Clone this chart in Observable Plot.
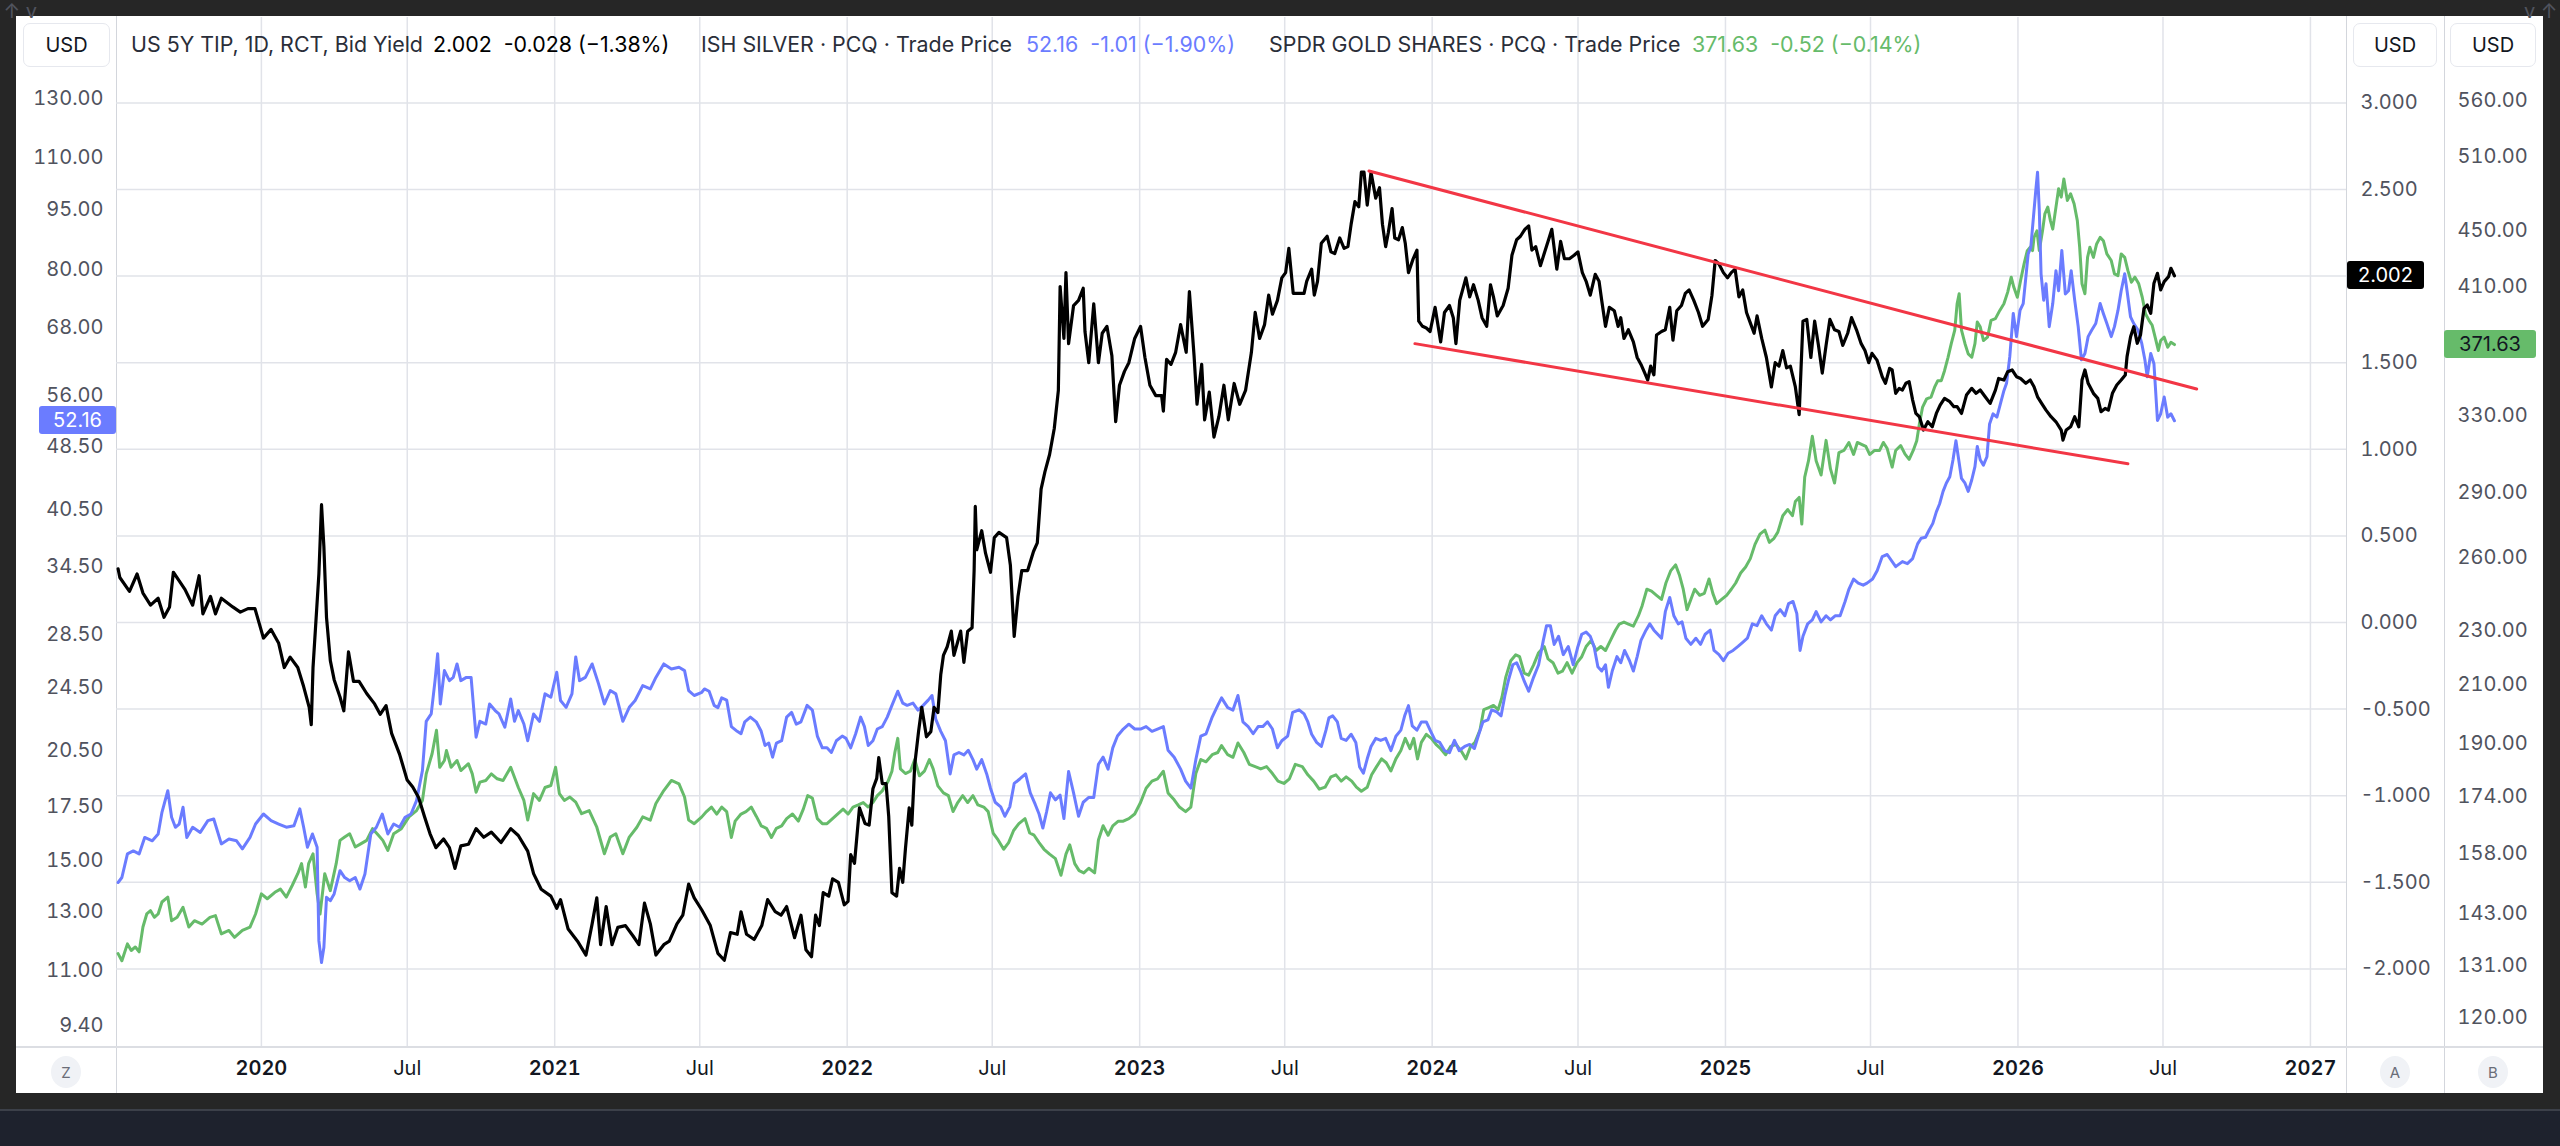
<!DOCTYPE html>
<html>
<head>
<meta charset="utf-8">
<script src="https://cdn.jsdelivr.net/npm/d3@7"></script>
<script src="https://cdn.jsdelivr.net/npm/@observablehq/plot@0.6"></script>
<style>
html,body{margin:0;padding:0;background:#262626;width:2560px;height:1146px;overflow:hidden;font-family:Inter,"Noto Sans",sans-serif;}
#stage{position:absolute;left:0;top:0;width:2560px;height:1146px;}
.panel{position:absolute;left:16px;top:16px;width:2527px;height:1077px;background:#fff;}
.footer{position:absolute;left:0;top:1109px;width:2560px;height:37px;background:#1e222d;border-top:2px solid #3c4049;}
.layer{position:absolute;left:0;top:0;}
.vsep{position:absolute;top:16px;height:1077px;width:1px;background:#d3d6dc;}
.hsep{position:absolute;left:16px;top:1046px;width:2527px;height:2px;background:#dcdee3;}
.usd{position:absolute;top:23px;height:44px;border:1px solid #e6e8ee;border-radius:7px;background:#fff;display:flex;align-items:center;justify-content:center;font-size:20px;color:#131722;box-sizing:border-box;}
.leg{position:absolute;top:30px;font-size:21.4px;line-height:28px;white-space:pre;color:#2a2e39;}
.badge{position:absolute;height:28px;border-radius:3px;font-size:20px;display:flex;align-items:center;justify-content:center;box-sizing:border-box;}
.circ{position:absolute;width:30px;height:32px;border-radius:50%;background:#f0f2f6;color:#6a6d78;font-size:15px;display:flex;align-items:center;justify-content:center;}
</style>
</head>
<body>
<div id="stage">
  <div class="panel"></div>
  <div class="footer"></div>
  <div class="vsep" style="left:116px"></div>
  <div class="vsep" style="left:2346px"></div>
  <div class="vsep" style="left:2444px"></div>
  <div class="hsep"></div>
</div>
<script>
// ---------- tick labels ----------
const yearTicks = [2020, 2021, 2022, 2023, 2024, 2025, 2026, 2027];
const julTicks = [2020, 2021, 2022, 2023, 2024, 2025, 2026];
const yieldTicks = [-2, -1.5, -1, -0.5, 0, 0.5, 1, 1.5, 2, 2.5, 3];
const silverTicks = [130, 110, 95, 80, 68, 56, 48.5, 40.5, 34.5, 28.5, 24.5, 20.5, 17.5, 15, 13, 11, 9.4];
const goldTicks = [560, 510, 450, 410, 370, 330, 290, 260, 230, 210, 190, 174, 158, 143, 131, 120];

// ---------- last values ----------
const lastYield = 2.002, lastSilver = 52.16, lastGold = 371.63;

// ---------- trend lines (decimal year, yield) ----------
const trendUpper = [[2023.784, 2.607], [2026.611, 1.348]];
const trendLower = [[2023.941, 1.610], [2026.376, 0.916]];

// ---------- US 5Y TIP yield (decimal year, %) ----------
const yieldSeries = [
[2019.510,0.31],[2019.516,0.26],[2019.549,0.18],[2019.575,0.28],[2019.595,0.17],[2019.621,0.10],[2019.647,0.14],[2019.667,0.03],[2019.686,0.09],[2019.699,0.29],[2019.719,0.24],[2019.739,0.19],[2019.765,0.10],[2019.787,0.27],[2019.800,0.05],[2019.826,0.15],[2019.843,0.05],[2019.863,0.14],[2019.902,0.09],[2019.928,0.06],[2019.954,0.08],[2019.978,0.08],
[2020.007,-0.09],[2020.033,-0.04],[2020.059,-0.12],[2020.078,-0.26],[2020.098,-0.20],[2020.124,-0.26],[2020.144,-0.37],[2020.163,-0.49],[2020.170,-0.59],[2020.176,-0.26],[2020.196,0.28],[2020.205,0.68],[2020.213,0.44],[2020.222,0.03],[2020.235,-0.22],[2020.248,-0.33],[2020.268,-0.43],[2020.281,-0.51],[2020.297,-0.17],[2020.314,-0.34],[2020.333,-0.34],[2020.359,-0.41],[2020.386,-0.47],[2020.405,-0.53],[2020.425,-0.48],[2020.444,-0.64],[2020.471,-0.76],[2020.497,-0.91],[2020.516,-0.95],[2020.536,-1.01],[2020.556,-1.12],[2020.575,-1.22],[2020.595,-1.30],[2020.621,-1.25],[2020.641,-1.30],[2020.660,-1.42],[2020.680,-1.29],[2020.706,-1.28],[2020.732,-1.19],[2020.758,-1.24],[2020.784,-1.21],[2020.817,-1.27],[2020.850,-1.19],[2020.876,-1.23],[2020.908,-1.32],[2020.928,-1.45],[2020.954,-1.54],[2020.987,-1.58],
[2021.007,-1.65],[2021.020,-1.60],[2021.046,-1.77],[2021.078,-1.84],[2021.107,-1.92],[2021.128,-1.74],[2021.144,-1.59],[2021.157,-1.86],[2021.176,-1.64],[2021.196,-1.86],[2021.216,-1.76],[2021.242,-1.75],[2021.268,-1.81],[2021.288,-1.86],[2021.307,-1.62],[2021.327,-1.74],[2021.346,-1.92],[2021.373,-1.86],[2021.392,-1.84],[2021.418,-1.74],[2021.438,-1.69],[2021.458,-1.51],[2021.477,-1.59],[2021.503,-1.66],[2021.532,-1.75],[2021.558,-1.91],[2021.580,-1.95],[2021.601,-1.79],[2021.624,-1.80],[2021.637,-1.67],[2021.656,-1.80],[2021.682,-1.83],[2021.708,-1.75],[2021.728,-1.60],[2021.754,-1.67],[2021.774,-1.69],[2021.793,-1.64],[2021.820,-1.82],[2021.842,-1.69],[2021.859,-1.89],[2021.878,-1.93],[2021.892,-1.69],[2021.905,-1.75],[2021.918,-1.56],[2021.937,-1.58],[2021.950,-1.48],[2021.970,-1.50],[2021.990,-1.63],
[2022.003,-1.61],[2022.012,-1.34],[2022.025,-1.39],[2022.042,-1.07],[2022.061,-1.16],[2022.075,-1.17],[2022.088,-0.96],[2022.101,-0.90],[2022.108,-0.78],[2022.120,-0.93],[2022.133,-0.93],[2022.142,-1.12],[2022.153,-1.56],[2022.169,-1.58],[2022.179,-1.42],[2022.190,-1.50],[2022.199,-1.31],[2022.212,-1.07],[2022.221,-1.17],[2022.231,-0.82],[2022.244,-0.63],[2022.255,-0.49],[2022.271,-0.66],[2022.286,-0.63],[2022.297,-0.49],[2022.310,-0.52],[2022.320,-0.30],[2022.329,-0.19],[2022.342,-0.14],[2022.356,-0.05],[2022.365,-0.19],[2022.378,-0.11],[2022.388,-0.05],[2022.399,-0.23],[2022.412,-0.05],[2022.427,-0.03],[2022.434,0.30],[2022.438,0.67],[2022.443,0.42],[2022.460,0.53],[2022.473,0.40],[2022.490,0.29],[2022.503,0.49],[2022.519,0.52],[2022.545,0.49],[2022.558,0.33],[2022.571,-0.08],[2022.584,0.15],[2022.597,0.30],[2022.617,0.30],[2022.637,0.41],[2022.650,0.46],[2022.663,0.77],[2022.676,0.87],[2022.692,0.97],[2022.708,1.12],[2022.722,1.34],[2022.728,1.94],[2022.741,1.64],[2022.748,2.02],[2022.757,1.61],[2022.774,1.83],[2022.791,1.86],[2022.807,1.93],[2022.813,1.68],[2022.826,1.50],[2022.843,1.84],[2022.859,1.50],[2022.872,1.67],[2022.888,1.71],[2022.905,1.54],[2022.918,1.16],[2022.931,1.37],[2022.948,1.45],[2022.963,1.50],[2022.983,1.64],
[2023.003,1.71],[2023.018,1.53],[2023.035,1.37],[2023.055,1.31],[2023.075,1.31],[2023.081,1.22],[2023.092,1.52],[2023.107,1.49],[2023.123,1.56],[2023.140,1.72],[2023.159,1.56],[2023.170,1.91],[2023.186,1.54],[2023.196,1.26],[2023.212,1.49],[2023.222,1.17],[2023.238,1.33],[2023.254,1.07],[2023.271,1.19],[2023.288,1.37],[2023.303,1.17],[2023.323,1.38],[2023.342,1.26],[2023.362,1.34],[2023.382,1.56],[2023.395,1.79],[2023.410,1.64],[2023.427,1.72],[2023.441,1.89],[2023.454,1.78],[2023.471,1.86],[2023.486,1.99],[2023.499,2.02],[2023.510,2.16],[2023.525,1.90],[2023.542,1.90],[2023.562,1.90],[2023.571,1.97],[2023.588,2.04],[2023.597,1.89],[2023.608,1.97],[2023.621,2.19],[2023.641,2.23],[2023.654,2.14],[2023.667,2.13],[2023.684,2.22],[2023.699,2.16],[2023.712,2.17],[2023.723,2.30],[2023.736,2.43],[2023.749,2.40],[2023.758,2.60],[2023.767,2.60],[2023.778,2.41],[2023.791,2.60],[2023.807,2.45],[2023.820,2.51],[2023.830,2.30],[2023.841,2.17],[2023.850,2.25],[2023.863,2.39],[2023.872,2.22],[2023.885,2.21],[2023.898,2.28],[2023.908,2.19],[2023.919,2.02],[2023.935,2.10],[2023.948,2.15],[2023.954,1.74],[2023.967,1.71],[2023.980,1.70],[2023.993,1.68],
[2024.010,1.82],[2024.029,1.62],[2024.042,1.79],[2024.059,1.83],[2024.072,1.76],[2024.081,1.61],[2024.094,1.86],[2024.115,1.99],[2024.128,1.88],[2024.141,1.95],[2024.157,1.86],[2024.170,1.76],[2024.186,1.71],[2024.199,1.95],[2024.209,1.88],[2024.222,1.77],[2024.242,1.83],[2024.259,1.93],[2024.272,2.12],[2024.288,2.21],[2024.301,2.23],[2024.316,2.27],[2024.329,2.29],[2024.340,2.15],[2024.353,2.17],[2024.369,2.06],[2024.382,2.13],[2024.395,2.20],[2024.408,2.27],[2024.425,2.04],[2024.438,2.20],[2024.451,2.10],[2024.468,2.10],[2024.484,2.12],[2024.497,2.14],[2024.512,2.02],[2024.525,1.97],[2024.539,1.89],[2024.556,2.01],[2024.569,1.97],[2024.578,1.86],[2024.591,1.71],[2024.604,1.82],[2024.621,1.80],[2024.634,1.71],[2024.643,1.76],[2024.654,1.64],[2024.669,1.69],[2024.686,1.62],[2024.699,1.53],[2024.712,1.49],[2024.725,1.44],[2024.735,1.40],[2024.745,1.48],[2024.756,1.43],[2024.765,1.66],[2024.782,1.68],[2024.795,1.69],[2024.810,1.82],[2024.821,1.63],[2024.834,1.80],[2024.850,1.83],[2024.863,1.90],[2024.876,1.92],[2024.892,1.86],[2024.908,1.79],[2024.922,1.71],[2024.941,1.75],[2024.954,1.89],[2024.965,2.09],[2024.978,2.07],[2024.993,2.02],
[2025.007,1.99],[2025.020,2.02],[2025.033,2.04],[2025.046,1.88],[2025.059,1.92],[2025.072,1.79],[2025.085,1.73],[2025.098,1.67],[2025.108,1.77],[2025.124,1.64],[2025.140,1.53],[2025.157,1.36],[2025.170,1.50],[2025.183,1.48],[2025.196,1.57],[2025.209,1.47],[2025.222,1.48],[2025.239,1.36],[2025.252,1.20],[2025.265,1.74],[2025.278,1.75],[2025.292,1.53],[2025.305,1.74],[2025.318,1.60],[2025.331,1.44],[2025.344,1.60],[2025.357,1.75],[2025.373,1.69],[2025.388,1.68],[2025.401,1.60],[2025.418,1.67],[2025.431,1.76],[2025.448,1.69],[2025.464,1.61],[2025.477,1.57],[2025.490,1.50],[2025.501,1.554],[2025.518,1.515],[2025.536,1.419],[2025.547,1.381],[2025.561,1.467],[2025.570,1.458],[2025.582,1.323],[2025.594,1.352],[2025.605,1.342],[2025.617,1.381],[2025.628,1.390],[2025.640,1.284],[2025.651,1.207],[2025.663,1.188],[2025.677,1.111],[2025.692,1.159],[2025.707,1.130],[2025.721,1.207],[2025.734,1.255],[2025.749,1.294],[2025.767,1.275],[2025.781,1.246],[2025.792,1.246],[2025.807,1.207],[2025.824,1.313],[2025.842,1.352],[2025.857,1.323],[2025.871,1.342],[2025.888,1.303],[2025.905,1.265],[2025.923,1.342],[2025.934,1.409],[2025.952,1.400],[2025.965,1.448],[2025.980,1.458],[2025.995,1.419],
[2026.009,1.409],[2026.027,1.381],[2026.042,1.400],[2026.055,1.361],[2026.067,1.303],[2026.081,1.265],[2026.096,1.226],[2026.113,1.188],[2026.130,1.159],[2026.148,1.111],[2026.154,1.053],[2026.165,1.111],[2026.180,1.130],[2026.194,1.188],[2026.208,1.130],[2026.219,1.400],[2026.229,1.458],[2026.240,1.381],[2026.258,1.323],[2026.273,1.294],[2026.284,1.217],[2026.298,1.236],[2026.309,1.226],[2026.323,1.323],[2026.338,1.371],[2026.353,1.400],[2026.367,1.429],[2026.373,1.535],[2026.385,1.650],[2026.396,1.708],[2026.408,1.612],[2026.419,1.660],[2026.431,1.814],[2026.442,1.833],[2026.454,1.785],[2026.465,1.959],[2026.477,2.016],[2026.488,1.920],[2026.500,1.968],[2026.515,1.997],[2026.523,2.045],[2026.535,2.002]
];

// ---------- iShares Silver (decimal year, USD) ----------
const silverSeries = [
[2019.510,14.10],[2019.523,14.30],[2019.542,15.29],[2019.562,15.42],[2019.582,15.29],[2019.601,16.02],[2019.627,15.87],[2019.647,16.18],[2019.660,17.20],[2019.680,18.29],[2019.693,16.96],[2019.706,16.49],[2019.719,16.64],[2019.732,17.45],[2019.745,16.02],[2019.765,16.49],[2019.791,16.25],[2019.817,16.80],[2019.837,16.88],[2019.863,15.73],[2019.889,15.95],[2019.915,15.87],[2019.935,15.51],[2019.961,16.02],[2019.980,16.64],
[2020.007,17.12],[2020.033,16.80],[2020.059,16.64],[2020.085,16.49],[2020.111,16.56],[2020.131,17.37],[2020.144,16.49],[2020.157,15.58],[2020.174,16.18],[2020.190,15.58],[2020.196,11.95],[2020.205,11.24],[2020.213,11.73],[2020.222,13.52],[2020.235,13.39],[2020.248,13.65],[2020.268,14.58],[2020.284,14.30],[2020.301,14.17],[2020.320,14.30],[2020.336,13.84],[2020.353,14.44],[2020.373,16.18],[2020.392,16.49],[2020.412,17.12],[2020.431,16.18],[2020.451,16.64],[2020.471,16.49],[2020.490,16.96],[2020.510,17.12],[2020.529,17.78],[2020.549,19.36],[2020.562,22.26],[2020.579,22.73],[2020.592,24.98],[2020.601,26.96],[2020.610,23.38],[2020.624,25.70],[2020.641,24.98],[2020.654,25.21],[2020.667,26.19],[2020.680,24.98],[2020.699,25.21],[2020.715,25.21],[2020.732,21.28],[2020.745,22.26],[2020.765,22.09],[2020.778,23.38],[2020.797,22.95],[2020.810,22.73],[2020.830,21.89],[2020.850,23.72],[2020.863,22.26],[2020.876,22.95],[2020.895,22.09],[2020.908,21.07],[2020.928,22.73],[2020.948,22.26],[2020.967,24.06],[2020.987,23.83],
[2021.007,25.58],[2021.020,23.61],[2021.039,23.16],[2021.059,24.06],[2021.072,26.71],[2021.085,24.98],[2021.105,25.21],[2021.128,26.19],[2021.150,24.75],[2021.170,23.38],[2021.190,24.29],[2021.209,24.06],[2021.233,22.26],[2021.255,23.16],[2021.275,23.61],[2021.301,24.63],[2021.327,24.40],[2021.346,25.21],[2021.373,26.19],[2021.399,25.82],[2021.425,25.94],[2021.444,25.70],[2021.458,24.29],[2021.477,23.95],[2021.503,24.17],[2021.512,24.40],[2021.528,24.24],[2021.545,23.29],[2021.558,23.14],[2021.571,23.79],[2021.588,23.64],[2021.604,21.93],[2021.624,21.64],[2021.637,21.49],[2021.650,22.23],[2021.669,22.53],[2021.689,22.23],[2021.706,21.64],[2021.719,20.79],[2021.732,20.93],[2021.745,20.11],[2021.758,20.93],[2021.776,21.07],[2021.793,22.53],[2021.810,22.83],[2021.826,22.08],[2021.842,22.23],[2021.863,23.29],[2021.881,22.98],[2021.898,21.35],[2021.915,20.65],[2021.931,20.65],[2021.946,20.38],[2021.963,21.07],[2021.983,21.35],[2021.996,21.21],
[2022.012,20.65],[2022.029,21.49],[2022.046,22.53],[2022.059,21.93],[2022.072,20.79],[2022.088,21.07],[2022.103,21.78],[2022.120,21.93],[2022.137,22.53],[2022.153,23.29],[2022.173,24.24],[2022.190,23.44],[2022.205,23.29],[2022.225,23.44],[2022.242,22.98],[2022.260,23.29],[2022.277,23.64],[2022.290,23.95],[2022.303,22.38],[2022.320,21.64],[2022.336,21.07],[2022.352,19.18],[2022.365,20.24],[2022.382,20.38],[2022.399,20.24],[2022.414,20.51],[2022.430,19.97],[2022.443,19.44],[2022.460,19.97],[2022.477,19.18],[2022.490,18.42],[2022.506,17.70],[2022.525,17.47],[2022.539,17.01],[2022.556,17.47],[2022.571,18.67],[2022.591,18.92],[2022.610,19.18],[2022.626,18.18],[2022.643,17.59],[2022.656,17.12],[2022.669,16.45],[2022.682,17.24],[2022.695,18.18],[2022.712,17.82],[2022.728,18.06],[2022.741,16.90],[2022.757,19.31],[2022.774,18.18],[2022.791,17.01],[2022.807,17.70],[2022.826,17.94],[2022.843,17.94],[2022.859,19.71],[2022.875,20.11],[2022.892,19.44],[2022.908,20.65],[2022.924,21.35],[2022.944,21.78],[2022.963,22.08],[2022.983,21.78],
[2023.003,21.78],[2023.022,21.93],[2023.042,21.64],[2023.061,21.78],[2023.081,21.93],[2023.097,20.51],[2023.118,20.11],[2023.140,19.44],[2023.157,18.79],[2023.175,18.42],[2023.192,19.97],[2023.209,21.35],[2023.227,21.49],[2023.248,22.53],[2023.267,23.29],[2023.280,23.79],[2023.301,23.14],[2023.319,22.98],[2023.336,23.95],[2023.353,22.23],[2023.371,21.93],[2023.388,21.49],[2023.405,21.93],[2023.421,21.93],[2023.437,22.23],[2023.454,21.78],[2023.471,20.65],[2023.486,21.07],[2023.506,21.35],[2023.523,22.83],[2023.545,23.00],[2023.562,22.73],[2023.575,22.22],[2023.588,21.46],[2023.605,20.97],[2023.621,20.73],[2023.637,21.71],[2023.647,22.48],[2023.660,22.61],[2023.676,22.22],[2023.689,21.21],[2023.706,21.09],[2023.723,21.46],[2023.739,20.97],[2023.752,19.56],[2023.765,19.22],[2023.778,20.02],[2023.791,20.73],[2023.807,21.21],[2023.824,21.09],[2023.841,21.21],[2023.859,20.49],[2023.876,21.34],[2023.893,21.71],[2023.906,22.61],[2023.919,23.27],[2023.932,21.97],[2023.948,21.71],[2023.963,22.22],[2023.980,22.22],[2023.993,21.71],
[2024.010,21.09],[2024.026,20.97],[2024.042,20.49],[2024.059,20.37],[2024.076,21.09],[2024.092,20.49],[2024.111,20.73],[2024.128,20.85],[2024.144,20.61],[2024.159,21.46],[2024.173,22.22],[2024.190,22.35],[2024.203,23.00],[2024.220,22.86],[2024.235,22.61],[2024.248,23.95],[2024.261,25.08],[2024.275,26.13],[2024.288,26.28],[2024.301,25.67],[2024.314,24.94],[2024.329,24.24],[2024.346,25.23],[2024.363,26.13],[2024.379,28.00],[2024.390,29.19],[2024.403,29.19],[2024.416,27.68],[2024.431,28.33],[2024.447,26.89],[2024.464,27.52],[2024.481,26.13],[2024.497,27.52],[2024.510,28.49],[2024.525,28.66],[2024.539,28.33],[2024.552,27.52],[2024.565,25.98],[2024.578,25.67],[2024.591,26.13],[2024.601,24.51],[2024.614,25.67],[2024.630,26.74],[2024.643,26.28],[2024.656,27.21],[2024.673,26.43],[2024.686,25.67],[2024.699,26.74],[2024.712,28.00],[2024.729,28.82],[2024.742,29.34],[2024.756,28.82],[2024.769,28.49],[2024.782,28.17],[2024.795,30.37],[2024.810,31.62],[2024.824,30.02],[2024.839,29.34],[2024.852,29.50],[2024.865,28.17],[2024.882,27.68],[2024.899,28.17],[2024.915,27.68],[2024.931,28.49],[2024.948,28.82],[2024.961,27.21],[2024.978,26.89],[2024.993,26.43],
[2025.009,27.00],[2025.026,27.21],[2025.043,27.52],[2025.059,27.84],[2025.075,28.17],[2025.092,29.34],[2025.108,29.19],[2025.124,30.02],[2025.140,29.34],[2025.157,28.82],[2025.170,30.02],[2025.187,30.55],[2025.203,30.02],[2025.216,31.08],[2025.231,31.26],[2025.244,30.20],[2025.255,27.21],[2025.265,28.33],[2025.281,29.34],[2025.297,29.67],[2025.310,30.37],[2025.327,29.50],[2025.344,30.02],[2025.359,29.67],[2025.375,30.02],[2025.392,30.02],[2025.409,31.26],[2025.422,32.36],[2025.438,33.31],[2025.454,32.93],[2025.471,32.74],[2025.484,32.93],[2025.503,33.31],[2025.519,34.13],[2025.536,35.50],[2025.553,35.71],[2025.582,34.5],[2025.605,35.0],[2025.622,34.8],[2025.640,35.3],[2025.657,36.8],[2025.669,37.4],[2025.684,37.5],[2025.697,38.3],[2025.709,39.0],[2025.721,40.3],[2025.732,41.2],[2025.744,42.7],[2025.755,43.7],[2025.767,44.5],[2025.778,46.7],[2025.788,49.3],[2025.796,47.1],[2025.807,44.3],[2025.819,43.7],[2025.830,42.7],[2025.842,44.1],[2025.853,45.8],[2025.861,48.5],[2025.871,46.7],[2025.882,46.0],[2025.894,47.1],[2025.903,51.7],[2025.915,53.2],[2025.928,52.7],[2025.940,54.7],[2025.952,56.8],[2025.961,58.0],[2025.972,62.5],[2025.984,70.7],[2025.995,66.2],
[2026.007,71.3],[2026.018,72.7],[2026.027,78.3],[2026.035,83.7],[2026.044,85.3],[2026.053,92.9],[2026.061,100.2],[2026.067,105.5],[2026.073,94.7],[2026.079,79.1],[2026.088,73.4],[2026.096,76.9],[2026.107,68.1],[2026.119,72.7],[2026.130,79.8],[2026.139,75.4],[2026.150,84.5],[2026.162,74.7],[2026.173,75.4],[2026.182,79.8],[2026.194,73.4],[2026.206,68.1],[2026.217,62.0],[2026.229,63.1],[2026.240,66.2],[2026.252,67.4],[2026.266,68.7],[2026.281,72.7],[2026.292,70.7],[2026.304,68.7],[2026.319,66.2],[2026.330,68.1],[2026.342,71.3],[2026.353,75.4],[2026.365,79.1],[2026.373,75.4],[2026.385,70.0],[2026.396,68.7],[2026.411,67.4],[2026.423,65.0],[2026.434,62.0],[2026.442,59.1],[2026.454,63.1],[2026.465,61.3],[2026.477,52.2],[2026.488,53.2],[2026.500,55.8],[2026.512,52.7],[2026.523,53.2],[2026.535,52.16]
];

// ---------- SPDR Gold Shares (decimal year, USD) ----------
const goldSeries = [
[2019.510,133.6],[2019.523,132.0],[2019.542,135.8],[2019.555,134.3],[2019.569,135.1],[2019.582,134.0],[2019.595,139.7],[2019.608,142.8],[2019.621,143.6],[2019.634,142.0],[2019.647,142.8],[2019.660,145.7],[2019.680,146.9],[2019.693,141.2],[2019.712,142.0],[2019.732,144.4],[2019.752,139.7],[2019.771,141.2],[2019.797,140.4],[2019.824,142.0],[2019.843,142.4],[2019.863,138.1],[2019.889,138.9],[2019.908,137.3],[2019.935,138.9],[2019.961,139.7],[2019.980,142.8],
[2020.000,147.7],[2020.020,146.5],[2020.046,148.1],[2020.065,148.9],[2020.085,146.9],[2020.105,149.8],[2020.124,152.8],[2020.137,155.4],[2020.150,149.4],[2020.161,155.4],[2020.176,158.0],[2020.190,147.7],[2020.200,142.8],[2020.216,152.8],[2020.235,148.5],[2020.255,155.4],[2020.268,161.6],[2020.284,162.5],[2020.301,163.4],[2020.320,159.8],[2020.340,160.7],[2020.359,161.6],[2020.379,164.8],[2020.399,163.0],[2020.414,161.6],[2020.431,158.9],[2020.451,163.4],[2020.477,164.8],[2020.503,168.1],[2020.529,169.9],[2020.549,172.8],[2020.562,180.7],[2020.582,186.9],[2020.597,194.4],[2020.608,182.7],[2020.624,184.8],[2020.631,187.9],[2020.647,182.7],[2020.667,184.8],[2020.680,181.7],[2020.706,183.8],[2020.719,180.7],[2020.732,175.2],[2020.745,178.2],[2020.765,178.7],[2020.784,180.7],[2020.804,179.2],[2020.824,178.7],[2020.850,182.7],[2020.876,176.6],[2020.895,172.8],[2020.908,167.2],[2020.928,174.8],[2020.948,172.8],[2020.967,176.6],[2020.987,177.2],
[2021.003,182.7],[2021.016,174.8],[2021.033,172.8],[2021.052,173.8],[2021.072,172.3],[2021.092,169.0],[2021.118,169.9],[2021.144,165.2],[2021.170,158.0],[2021.190,162.5],[2021.209,163.4],[2021.233,158.0],[2021.255,162.5],[2021.281,165.2],[2021.301,168.1],[2021.327,167.2],[2021.346,171.9],[2021.373,175.7],[2021.399,178.7],[2021.425,177.7],[2021.444,173.8],[2021.458,167.2],[2021.477,166.2],[2021.503,168.1],[2021.519,169.6],[2021.536,170.9],[2021.554,168.9],[2021.571,170.9],[2021.588,169.6],[2021.604,162.4],[2021.617,166.9],[2021.637,168.9],[2021.654,169.6],[2021.672,170.9],[2021.689,168.3],[2021.706,165.6],[2021.724,164.9],[2021.741,162.4],[2021.758,164.9],[2021.776,165.6],[2021.793,167.6],[2021.813,168.9],[2021.833,166.9],[2021.850,170.3],[2021.865,174.2],[2021.881,173.5],[2021.898,167.6],[2021.915,166.2],[2021.931,166.2],[2021.950,167.6],[2021.967,168.9],[2021.986,170.3],
[2022.003,168.9],[2022.020,170.9],[2022.038,171.5],[2022.055,172.2],[2022.072,170.9],[2022.088,172.2],[2022.103,174.2],[2022.120,175.6],[2022.140,178.5],[2022.153,181.5],[2022.163,187.3],[2022.173,191.8],[2022.182,182.2],[2022.199,180.8],[2022.216,181.5],[2022.231,185.1],[2022.247,180.1],[2022.264,181.5],[2022.281,185.1],[2022.294,182.2],[2022.310,177.1],[2022.329,175.0],[2022.346,174.2],[2022.362,169.6],[2022.378,172.2],[2022.395,174.2],[2022.412,172.2],[2022.430,174.2],[2022.447,171.5],[2022.467,170.9],[2022.482,169.6],[2022.499,163.6],[2022.516,161.7],[2022.535,159.2],[2022.552,161.0],[2022.569,164.3],[2022.587,166.2],[2022.608,167.6],[2022.624,163.6],[2022.639,163.0],[2022.656,161.0],[2022.673,159.2],[2022.692,157.9],[2022.712,156.7],[2022.731,152.4],[2022.748,157.9],[2022.761,160.4],[2022.778,155.4],[2022.793,153.6],[2022.809,153.0],[2022.826,154.2],[2022.846,153.0],[2022.859,161.7],[2022.875,165.6],[2022.892,163.0],[2022.908,165.6],[2022.927,166.9],[2022.944,166.9],[2022.963,167.6],[2022.983,168.9],
[2023.003,172.2],[2023.022,176.4],[2023.042,178.5],[2023.061,179.2],[2023.081,181.5],[2023.097,175.0],[2023.118,173.0],[2023.136,170.9],[2023.157,169.6],[2023.175,170.9],[2023.192,180.8],[2023.209,185.1],[2023.227,184.4],[2023.248,186.6],[2023.267,187.3],[2023.280,189.5],[2023.301,186.6],[2023.319,185.8],[2023.336,190.3],[2023.356,187.3],[2023.375,183.6],[2023.395,182.9],[2023.414,182.2],[2023.434,182.9],[2023.454,180.8],[2023.473,178.5],[2023.493,177.8],[2023.512,179.2],[2023.532,183.6],[2023.556,182.9],[2023.575,180.4],[2023.595,178.5],[2023.614,176.1],[2023.634,176.7],[2023.654,179.8],[2023.671,180.4],[2023.689,178.5],[2023.706,179.8],[2023.725,178.5],[2023.741,176.7],[2023.758,175.5],[2023.778,176.7],[2023.793,180.4],[2023.810,182.9],[2023.827,185.3],[2023.843,184.1],[2023.859,181.6],[2023.876,185.3],[2023.893,187.9],[2023.908,191.8],[2023.924,188.5],[2023.937,191.8],[2023.950,185.3],[2023.963,190.5],[2023.980,193.1],[2023.997,191.8],
[2024.013,189.9],[2024.029,188.5],[2024.046,186.6],[2024.063,189.2],[2024.081,189.9],[2024.098,187.9],[2024.115,185.3],[2024.131,189.2],[2024.146,190.5],[2024.163,194.5],[2024.176,201.3],[2024.193,202.0],[2024.209,202.7],[2024.225,201.3],[2024.238,205.5],[2024.251,212.6],[2024.268,218.5],[2024.285,220.7],[2024.298,220.0],[2024.314,214.0],[2024.329,213.3],[2024.346,217.0],[2024.363,221.5],[2024.382,223.8],[2024.395,219.2],[2024.412,217.8],[2024.429,214.0],[2024.444,214.7],[2024.460,217.8],[2024.477,214.0],[2024.494,217.8],[2024.510,220.0],[2024.525,223.8],[2024.542,226.1],[2024.559,222.3],[2024.575,223.8],[2024.591,222.3],[2024.608,226.1],[2024.625,230.0],[2024.638,232.4],[2024.654,233.2],[2024.669,232.4],[2024.686,231.6],[2024.703,235.6],[2024.716,239.7],[2024.732,246.4],[2024.748,245.6],[2024.765,243.9],[2024.782,242.2],[2024.797,249.0],[2024.813,254.1],[2024.830,256.7],[2024.843,252.4],[2024.856,246.4],[2024.869,238.1],[2024.882,242.2],[2024.895,246.4],[2024.912,243.9],[2024.928,244.7],[2024.944,250.7],[2024.957,244.7],[2024.970,240.5],[2024.987,242.2],
[2025.004,243.9],[2025.020,246.4],[2025.035,249.0],[2025.052,253.2],[2025.069,255.8],[2025.085,259.4],[2025.101,265.7],[2025.118,270.3],[2025.135,272.1],[2025.150,266.6],[2025.166,268.4],[2025.179,271.2],[2025.196,278.8],[2025.213,281.7],[2025.229,278.8],[2025.239,285.5],[2025.252,287.5],[2025.261,274.9],[2025.271,297.5],[2025.284,305.8],[2025.297,318.6],[2025.310,305.8],[2025.327,298.5],[2025.344,316.4],[2025.359,301.6],[2025.373,294.5],[2025.388,310.0],[2025.405,311.1],[2025.422,315.3],[2025.438,309.0],[2025.451,315.3],[2025.467,314.2],[2025.480,313.2],[2025.493,309.0],[2025.510,311.1],[2025.527,311.1],[2025.540,315.3],[2025.553,312.1],[2025.570,302.5],[2025.582,311.1],[2025.599,313.7],[2025.614,309.2],[2025.628,306.5],[2025.642,311.1],[2025.654,316.2],[2025.663,325.3],[2025.674,334.6],[2025.688,339.3],[2025.703,340.3],[2025.715,346.0],[2025.726,349.8],[2025.738,349.8],[2025.749,355.7],[2025.761,363.8],[2025.772,372.2],[2025.784,380.8],[2025.792,398.0],[2025.799,404.8],[2025.807,380.8],[2025.819,372.2],[2025.830,365.9],[2025.842,363.8],[2025.853,372.2],[2025.861,386.0],[2025.871,382.9],[2025.882,374.2],[2025.896,376.3],[2025.908,387.1],[2025.923,388.2],[2025.938,393.6],[2025.952,398.0],[2025.965,405.9],[2025.977,416.2],[2025.986,409.2],[2025.998,402.4],
[2026.009,413.9],[2026.021,425.6],[2026.032,435.2],[2026.042,437.7],[2026.050,435.2],[2026.055,445.0],[2026.065,449.9],[2026.073,435.2],[2026.084,449.9],[2026.092,462.9],[2026.102,468.2],[2026.111,457.7],[2026.119,451.2],[2026.130,468.2],[2026.139,482.8],[2026.148,476.1],[2026.157,490.9],[2026.169,473.5],[2026.180,478.8],[2026.192,470.8],[2026.203,457.7],[2026.211,437.7],[2026.219,411.6],[2026.229,404.8],[2026.238,430.3],[2026.246,437.7],[2026.258,430.3],[2026.269,440.1],[2026.281,445.0],[2026.292,442.5],[2026.304,432.8],[2026.319,428.0],[2026.330,418.5],[2026.342,417.3],[2026.353,432.8],[2026.365,430.3],[2026.376,420.8],[2026.388,412.7],[2026.400,416.2],[2026.413,411.6],[2026.425,402.4],[2026.436,391.4],[2026.448,387.1],[2026.459,383.9],[2026.469,376.3],[2026.480,368.0],[2026.488,374.2],[2026.500,376.3],[2026.512,370.0],[2026.523,373.1],[2026.535,371.63]
];

// ---------- helpers ----------
function toDate(t) {
  const y = Math.floor(t);
  const a = Date.UTC(y, 0, 1), b = Date.UTC(y + 1, 0, 1);
  return new Date(a + (t - y) * (b - a));
}
const rows = s => s.map(([t, v]) => ({date: toDate(t), v}));
const yieldData = rows(yieldSeries);
const silverData = rows(silverSeries);
const goldData = rows(goldSeries);
const upperData = rows(trendUpper);
const lowerData = rows(trendLower);
const yearDates = yearTicks.map(y => new Date(Date.UTC(y, 0, 1)));
const julDates = julTicks.map(y => new Date(Date.UTC(y, 6, 1)));
const gridDates = [...yearDates, ...julDates];

// tick labels hidden behind the last-value badges (as in the original)
const yieldLabelTicks = yieldTicks.filter(d => Math.abs(d - lastYield) > 0.1);
const goldLabelTicks = goldTicks.filter(d => Math.abs(Math.log(d / lastGold)) > 0.03);

const W = 2560, H = 1093;
const frame = {width: W, height: H, marginLeft: 116, marginRight: 214, marginTop: 17, marginBottom: 47};
const xScale = {type: "utc", domain: [toDate(2019.5046), toDate(2027.1233)]};
const style = {background: "transparent", fontFamily: "Inter, 'Noto Sans', sans-serif", fontSize: "20px", overflow: "visible"};
const yieldY = {type: "linear", domain: [-2.448, 3.493]};
const axisColor = "#50535e";

const stage = document.getElementById("stage");
function addLayer(svg) { svg.classList.add("layer"); stage.appendChild(svg); return svg; }

// Layer A: grid, yield axis, time axis
const plotA = Plot.plot({
  ...frame, style, x: xScale, y: yieldY,
  marks: [
    Plot.gridX(gridDates, {stroke: "#e1e3e9", strokeOpacity: 1, strokeWidth: 1.5}),
    Plot.gridY(yieldTicks, {stroke: "#e1e3e9", strokeOpacity: 1, strokeWidth: 1.5}),
    Plot.axisY(yieldLabelTicks, {anchor: "right", tickSize: 0, tickPadding: 14, tickFormat: d => d.toFixed(3), fill: axisColor}),
    Plot.axisX(yearDates, {anchor: "bottom", tickSize: 0, tickPadding: 14, tickFormat: d3.utcFormat("%Y"), fontWeight: 600, fill: "#131722"}),
    Plot.axisX(julDates, {anchor: "bottom", tickSize: 0, tickPadding: 14, tickFormat: () => "Jul", fill: "#131722"})
  ]
});
addLayer(plotA);

// Layer B: gold (log, far-right axis)
const plotB = Plot.plot({
  ...frame, style, x: {...xScale, axis: null}, y: {type: "log", domain: [114.3, 643.8]},
  marks: [
    Plot.line(goldData, {x: "date", y: "v", stroke: "#66bb6a", strokeWidth: 3, strokeLinejoin: "round"}),
    Plot.axisY(goldLabelTicks, {anchor: "right", tickSize: 0, tickPadding: 111, tickFormat: d => d.toFixed(2), fill: axisColor})
  ]
});
addLayer(plotB);

// Layer C: silver (log, left axis)
const plotC = Plot.plot({
  ...frame, style, x: {...xScale, axis: null}, y: {type: "log", domain: [8.86, 163.5]},
  marks: [
    Plot.line(silverData, {x: "date", y: "v", stroke: "#6b7cff", strokeWidth: 3, strokeLinejoin: "round"}),
    Plot.axisY(silverTicks, {anchor: "left", tickSize: 0, tickPadding: 13, tickFormat: d => d.toFixed(2), fill: axisColor})
  ]
});
addLayer(plotC);

// Layer D: yield line and trend lines
const plotD = Plot.plot({
  ...frame, style, x: {...xScale, axis: null}, y: {...yieldY, axis: null},
  marks: [
    Plot.line(yieldData, {x: "date", y: "v", stroke: "#000", strokeWidth: 3.2, strokeLinejoin: "round"}),
    Plot.line(upperData, {x: "date", y: "v", stroke: "#f23645", strokeWidth: 3}),
    Plot.line(lowerData, {x: "date", y: "v", stroke: "#f23645", strokeWidth: 3})
  ]
});
addLayer(plotD);

// ---------- overlays ----------
function el(cls, css, text) {
  const d = document.createElement("div");
  d.className = cls;
  Object.assign(d.style, css);
  if (text != null) d.textContent = text;
  stage.appendChild(d);
  return d;
}
// last-value badges placed through each plot's own y scale
const yBlack = plotD.scale("y").apply(lastYield);
const ySilver = plotC.scale("y").apply(lastSilver);
const yGold = plotB.scale("y").apply(lastGold);
el("badge", {left: "2347px", width: "77px", top: (yBlack - 14) + "px", background: "#000", color: "#fff"}, lastYield.toFixed(3));
el("badge", {left: "39px", width: "77px", top: (ySilver - 14) + "px", background: "#6b7cff", color: "#fff"}, lastSilver.toFixed(2));
el("badge", {left: "2444px", width: "92px", top: (yGold - 14) + "px", background: "#66bb6a", color: "#131722"}, lastGold.toFixed(2));

// USD boxes
el("usd", {left: "23px", width: "87px"}, "USD");
el("usd", {left: "2353px", width: "84px"}, "USD");
el("usd", {left: "2450px", width: "86px"}, "USD");

// legend
el("leg", {left: "131px"}, "US 5Y TIP, 1D, RCT, Bid Yield");
el("leg", {left: "433px", color: "#000"}, "2.002  -0.028 (\u22121.38%)");
el("leg", {left: "701px"}, "ISH SILVER \u00b7 PCQ \u00b7 Trade Price");
el("leg", {left: "1026px", color: "#6b7cff"}, "52.16  -1.01 (\u22121.90%)");
el("leg", {left: "1269px"}, "SPDR GOLD SHARES \u00b7 PCQ \u00b7 Trade Price");
el("leg", {left: "1692px", color: "#66bb6a"}, "371.63  -0.52 (\u22120.14%)");

// scale-mode buttons
el("circ", {left: "51px", top: "1056px"}, "Z");
el("circ", {left: "2380px", top: "1056px"}, "A");
el("circ", {left: "2478px", top: "1056px"}, "B");
</script>
</body>
</html>
